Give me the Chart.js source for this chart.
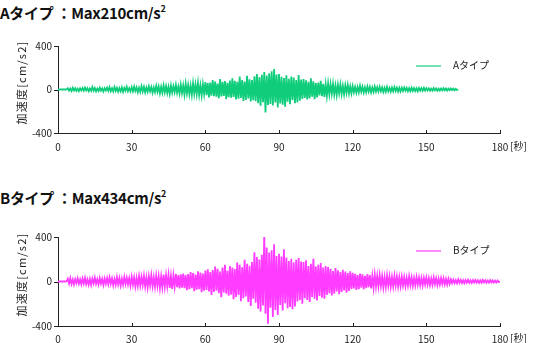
<!DOCTYPE html>
<html lang="ja">
<head>
<meta charset="utf-8">
<script src="https://cdn.jsdelivr.net/npm/chart.js@4.4.1/dist/chart.umd.min.js"></script>
<style>
  html, body { margin: 0; padding: 0; background: #fff; }
  body { width: 533px; height: 343px; position: relative; overflow: hidden; font-family: "Noto Sans CJK JP", "Noto Sans", sans-serif; }
  .ttl { position: absolute; left: 0; font-weight: bold; font-size: 15px; color: #111; white-space: nowrap; line-height: 1; letter-spacing: -0.3px; }
  .ttl sup { font-size: 9px; vertical-align: 7px; }
  .box { position: absolute; left: 0; width: 533px; }
  .box canvas { display: block; }
</style>
</head>
<body>
<div class="ttl" style="top:4px">Aタイプ ：Max210cm/s<sup>2</sup></div>
<div class="box" style="top:30px;height:130px"><canvas id="chartA"></canvas></div>
<div class="ttl" style="top:189px">Bタイプ ：Max434cm/s<sup>2</sup></div>
<div class="box" style="top:220px;height:123px"><canvas id="chartB"></canvas></div>
<script>
// sampling interval of the records (seconds)
const SAMPLE_STEP = 0.5;

const xTicks = [0, 30, 60, 90, 120, 150, 180];
const yTicks = [-400, 0, 400];

// Aタイプ acceleration [cm/s2], 0 - 163 s
const accelA = [
  0, 0, 0, 0, 0, 0, 0, 1, 12, -10, 8, -14, 16, -9, 11, -13, 7, -15, 10, -8,
  14, -11, 18, -9, 12, -16, 9, -12, 22, -10, 13, -17, 8, -14, 16, -11, 10, -19, 12, -9,
  17, -13, 21, -15, 11, -18, 24, -12, 15, -20, 13, -16, 19, -22, 14, -11, 26, -15, 12, -18,
  21, -17, 28, -14, 19, -25, 16, -22, 31, -18, 24, -27, 17, -21, 29, -16, 22, -30, 18, -24,
  33, -22, 27, -35, 24, -29, 38, -26, 31, -33, 25, -40, 36, -28, 30, -24, 42, -31, 27, -36,
  45, -33, 38, -47, 52, -36, 41, -44, 35, -50, 57, -39, 46, -42, 61, -48, 37, -55, 49, -41,
  68, -52, 59, -74, 63, -57, 86, -61, 72, -66, 55, -81, 97, -64, 70, -58, 77, -88, 62, -70,
  83, -75, 102, -68, 79, -92, 71, -85, 118, -77, 88, -105, 74, -96, 125, -82, 93, -110, 86, -99,
  121, -108, 143, -126, 112, -150, 135, -118, 160, -212, 128, -142, 150, -133, 168, -147, 188, -120, 138, -165,
  142, -128, 116, -140, 105, -158, 130, -112, 98, -135, 120, -95, 110, -125, 88, -118, 132, -102, 92, -86,
  96, -78, 84, -92, 70, -81, 102, -66, 75, -88, 58, -72, 64, -55, 80, -61, 52, -68, 47, -58,
  55, -44, 48, -39, 52, -46, 37, -50, 43, -35, 46, -41, 33, -45, 38, -30, 42, -36, 29, -34,
  31, -26, 24, -29, 22, -27, 33, -21, 25, -28, 19, -24, 27, -20, 23, -26, 18, -22, 26, -19,
  21, -18, 24, -15, 19, -22, 16, -20, 23, -17, 14, -21, 18, -16, 22, -13, 17, -19, 15, -18,
  16, -13, 18, -11, 14, -16, 12, -15, 17, -12, 13, -14, 11, -16, 15, -10, 13, -12, 16, -11,
  12, -9, 10, -11, 8, -10, 13, -8, 9, -11, 7, -9, 10, -8, 11, -7, 9, -10, 8, -7,
  9, -6, 7, -8, 6, -5, 0
];

// Bタイプ acceleration [cm/s2], 0 - 180 s
const accelB = [
  0, 0, 0, 0, 0, 0, 0, 2, 24, -18, 30, -22, 17, -27, 21, -15, 28, -20, 19, -25,
  26, -19, 32, -23, 18, -28, 22, -30, 25, -17, 34, -21, 20, -26, 29, -18, 23, -31, 27, -20,
  30, -24, 36, -20, 27, -33, 22, -29, 38, -25, 31, -35, 24, -28, 40, -22, 33, -27, 29, -37,
  41, -30, 36, -45, 33, -39, 48, -35, 42, -31, 50, -44, 37, -52, 45, -34, 55, -41, 38, -47,
  52, -40, 47, -58, 44, -50, 63, -46, 55, -42, 60, -57, 48, -66, 53, -45, 70, -51, 58, -62,
  65, -55, 72, -61, 58, -78, 66, -70, 84, -59, 75, -88, 63, -74, 92, -68, 80, -95, 71, -83,
  98, -76, 110, -89, 85, -120, 102, -94, 135, -82, 115, -105, 90, -142, 125, -98, 150, -110, 96, -128,
  140, -118, 125, -160, 112, -138, 170, -122, 150, -178, 128, -150, 195, -135, 160, -185, 142, -220, 175, -155,
  262, -190, 220, -245, 198, -270, 240, -215, 434, -290, 305, -380, 260, -235, 280, -320, 335, -255, 230, -300,
  250, -210, 225, -260, 290, -195, 215, -240, 185, -230, 205, -250, 170, -225, 195, -180, 210, -165, 180, -200,
  175, -150, 190, -165, 140, -185, 160, -140, 205, -155, 135, -170, 150, -130, 165, -145, 125, -155, 140, -120,
  130, -105, 115, -125, 95, -110, 120, -90, 100, -115, 85, -95, 105, -80, 90, -100, 75, -85, 92, -70,
  78, -62, 70, -75, 58, -68, 72, -55, 64, -70, 52, -60, 66, -50, 58, -63, 48, -55, 60, -45,
  50, -44, 55, -40, 46, -52, 41, -48, 53, -38, 44, -47, 39, -43, 49, -36, 42, -45, 38, -41,
  42, -35, 38, -40, 33, -37, 45, -30, 36, -39, 31, -34, 40, -28, 35, -33, 30, -36, 32, -27,
  34, -28, 30, -32, 26, -30, 35, -24, 28, -31, 25, -27, 30, -22, 27, -25, 22, -26, 24, -20,
  18, -14, 16, -15, 12, -16, 20, -11, 14, -13, 11, -15, 13, -10, 15, -12, 10, -13, 12, -9,
  13, -10, 11, -12, 9, -11, 14, -8, 10, -11, 8, -10, 12, -7, 9, -10, 7, -9, 8, -6,
  0
];

const FONT = '"Noto Sans CJK JP", "Noto Sans", sans-serif';
const AXIS_COLOR = '#222';

// axis tick marks, axis titles and line legend drawn on top of the chart
const decorPlugin = {
  id: 'decor',
  afterDraw(chart, args, opts) {
    const ctx = chart.ctx;
    const xs = chart.scales.x;
    const ys = chart.scales.y;
    const area = chart.chartArea;
    ctx.save();
    ctx.strokeStyle = AXIS_COLOR;
    ctx.lineWidth = 1;
    ctx.beginPath();
    xTicks.forEach(v => {
      if (v === 0) return;
      const px = Math.round(xs.getPixelForValue(v)) + 0.5;
      ctx.moveTo(px, area.bottom);
      ctx.lineTo(px, area.bottom - 3);
    });
    yTicks.forEach(v => {
      const py = Math.round(ys.getPixelForValue(v)) + 0.5;
      ctx.moveTo(area.left, py);
      ctx.lineTo(area.left - 4, py);
    });
    ctx.stroke();

    ctx.fillStyle = '#222';
    ctx.font = '10px ' + FONT;
    ctx.textBaseline = 'middle';
    ctx.textAlign = 'left';
    ctx.fillText('[秒]', xs.getPixelForValue(180) + 10, area.bottom + opts.unitDy);

    // vertical axis title
    ctx.save();
    ctx.translate(22, ys.getPixelForValue(0) - 7);
    ctx.rotate(-Math.PI / 2);
    ctx.textAlign = 'center';
    ctx.font = '11px ' + FONT;
    ctx.letterSpacing = '1.2px';
    ctx.fillText('加速度[cm/s2]', 0, 0);
    ctx.restore();

    // legend
    const ds = chart.data.datasets[0];
    ctx.strokeStyle = ds.borderColor;
    ctx.lineWidth = 1.2;
    ctx.beginPath();
    ctx.moveTo(opts.legendX, opts.legendY);
    ctx.lineTo(opts.legendX + 25, opts.legendY);
    ctx.stroke();
    ctx.fillText(ds.label, opts.legendX + 37, opts.legendY - 1);
    ctx.restore();
  }
};

function makeChart(canvasId, values, label, color, geo) {
  const points = values.map((v, i) => ({ x: i * SAMPLE_STEP, y: v }));
  return new Chart(document.getElementById(canvasId), {
    type: 'line',
    data: {
      datasets: [{
        label: label,
        data: points,
        borderColor: color,
        borderWidth: 1.8,
        borderJoinStyle: 'miter',
        pointRadius: 0,
        tension: 0,
        fill: false
      }]
    },
    options: {
      responsive: true,
      maintainAspectRatio: false,
      animation: false,
      events: [],
      layout: { padding: { top: geo.top, right: 33, left: 0, bottom: 0 } },
      plugins: {
        legend: { display: false },
        tooltip: { enabled: false },
        decor: { legendX: 416, legendY: geo.legendY, unitDy: geo.unitDy }
      },
      scales: {
        x: {
          type: 'linear',
          min: 0,
          max: 180,
          afterBuildTicks: s => { s.ticks = xTicks.map(v => ({ value: v })); },
          afterFit: s => { s.height = geo.xHeight; },
          grid: { display: false, drawTicks: false },
          border: { display: true, color: AXIS_COLOR, width: 1 },
          ticks: { color: '#222', font: { size: 10, family: FONT }, padding: geo.xPad, maxRotation: 0 }
        },
        y: {
          min: -400,
          max: 400,
          afterBuildTicks: s => { s.ticks = yTicks.map(v => ({ value: v })); },
          afterFit: s => { s.width = 58; },
          grid: { display: false, drawTicks: false },
          border: { display: true, color: AXIS_COLOR, width: 1 },
          ticks: { color: '#222', font: { size: 10, family: FONT }, padding: 6 }
        }
      }
    },
    plugins: [decorPlugin]
  });
}

makeChart('chartA', accelA, 'Aタイプ', '#10cd7c', { top: 16, xHeight: 27, xPad: 8, legendY: 36, unitDy: 13 });
makeChart('chartB', accelB, 'Bタイプ', '#ff3cff', { top: 17, xHeight: 17, xPad: 7, legendY: 31, unitDy: 12 });
</script>
</body>
</html>
